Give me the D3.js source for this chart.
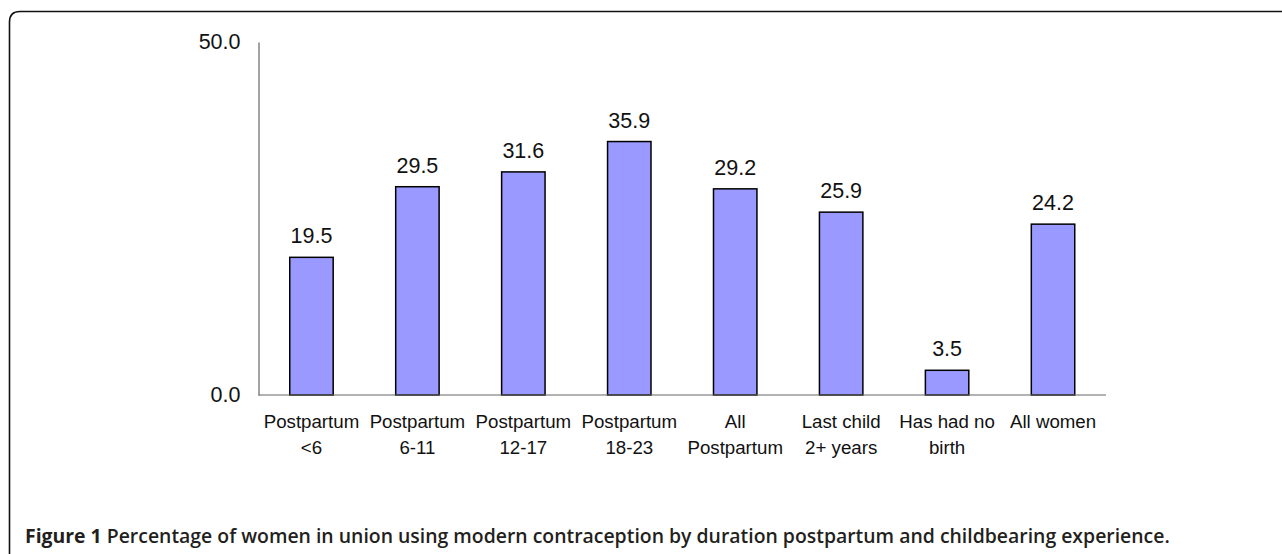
<!DOCTYPE html>
<html>
<head>
<meta charset="utf-8">
<script src="https://cdn.jsdelivr.net/npm/d3@7"></script>
<style>
  body { margin: 0; background: #fff; }
  svg { display: block; }
</style>
</head>
<body>
<div id="chart"></div>
<script>
// data
var categories = [
	['Postpartum', '<6'],
	['Postpartum', '6-11'],
	['Postpartum', '12-17'],
	['Postpartum', '18-23'],
	['All', 'Postpartum'],
	['Last child', '2+ years'],
	['Has had no', 'birth'],
	['All women']
];
var values = [19.5, 29.5, 31.6, 35.9, 29.2, 25.9, 3.5, 24.2];
var yTicks = [0, 50];
var captionBold = 'Figure 1';
var captionText = ' Percentage of women in union using modern contraception by duration postpartum and childbearing experience.';

var width = 1282;
var height = 554;

var plotLeft = 258.5;
var plotRight = 1106;
var plotTop = 42;
var plotBottom = 395;

var svg = d3.select('#chart')
	.append('svg')
	.attr('width', width)
	.attr('height', height);

// frame round the figure, open to the right and bottom
svg.append('path')
	.attr('d', 'M9.5,' + height + ' L9.5,22 Q9.5,11.5 20,11.5 L' + width + ',11.5')
	.attr('fill', 'none')
	.attr('stroke', '#111')
	.attr('stroke-width', 1.6);

var x = d3.scaleBand()
	.domain(d3.range(categories.length))
	.range([plotLeft, plotRight])
	.paddingInner(0.59)
	.paddingOuter(0.295);

var y = d3.scaleLinear()
	.domain([0, 50])
	.range([plotBottom, plotTop]);

// y axis: line + labels, no tick marks
var yAxis = d3.axisLeft(y)
	.tickValues(yTicks)
	.tickFormat(d3.format('.1f'))
	.tickSize(0)
	.tickPadding(18);

var gy = svg.append('g')
	.attr('transform', 'translate(' + plotLeft + ',0)')
	.call(yAxis);
gy.select('.domain').attr('stroke', '#666').attr('stroke-width', 1.2);
gy.selectAll('text')
	.attr('font-family', 'Liberation Sans, Arial, sans-serif')
	.attr('font-size', 21.5)
	.attr('fill', '#111');

// bars
svg.append('g')
	.selectAll('rect')
	.data(values)
	.join('rect')
	.attr('x', function(d, i) { return x(i); })
	.attr('y', function(d) { return y(d); })
	.attr('width', x.bandwidth())
	.attr('height', function(d) { return y(0) - y(d); })
	.attr('fill', '#9999ff')
	.attr('stroke', '#000')
	.attr('stroke-width', 1.5);

// baseline
svg.append('line')
	.attr('x1', plotLeft)
	.attr('x2', plotRight)
	.attr('y1', y(0))
	.attr('y2', y(0))
	.attr('stroke', '#666')
	.attr('stroke-width', 1.2);

// value labels
svg.append('g')
	.selectAll('text')
	.data(values)
	.join('text')
	.attr('x', function(d, i) { return x(i) + x.bandwidth() / 2; })
	.attr('y', function(d) { return y(d) - 14; })
	.attr('text-anchor', 'middle')
	.attr('font-family', 'Liberation Sans, Arial, sans-serif')
	.attr('font-size', 21.5)
	.attr('fill', '#111')
	.text(function(d) { return d.toFixed(1); });

// category labels
var cat = svg.append('g')
	.selectAll('text')
	.data(categories)
	.join('text')
	.attr('x', function(d, i) { return x(i) + x.bandwidth() / 2; })
	.attr('y', 428)
	.attr('text-anchor', 'middle')
	.attr('font-family', 'Liberation Sans, Arial, sans-serif')
	.attr('font-size', 18.7)
	.attr('fill', '#111');

cat.selectAll('tspan')
	.data(function(d) { return d; })
	.join('tspan')
	.attr('x', function() { return d3.select(this.parentNode).attr('x'); })
	.attr('dy', function(d, i) { return i === 0 ? 0 : 26; })
	.text(function(d) { return d; });

// caption, sized so it runs to about x=1170 like the original
var cap = svg.append('text')
	.attr('x', 25)
	.attr('y', 543)
	.attr('font-family', 'Open Sans, Noto Sans, sans-serif')
	.attr('font-size', 17)
	.attr('fill', '#231f20');
cap.append('tspan').attr('font-weight', 'bold').text(captionBold);
cap.append('tspan').attr('font-weight', 600).text(captionText);
var capLen = cap.node().getComputedTextLength();
cap.attr('font-size', 17 * (1170 - 25) / capLen);
</script>
</body>
</html>
